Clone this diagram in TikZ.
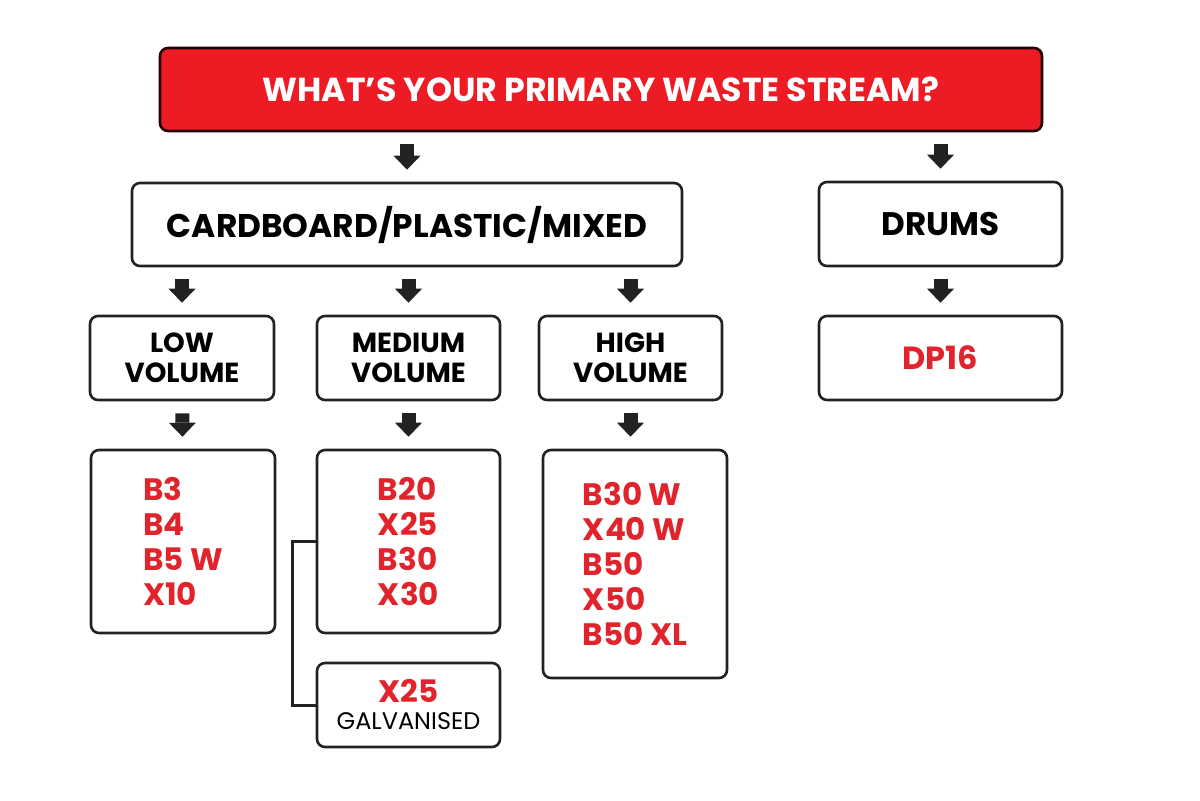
\documentclass[tikz,border=0pt]{standalone}
\usepackage{fontspec}
\setmainfont{Poppins}
\usetikzlibrary{arrows.meta,positioning}
\definecolor{streamred}{HTML}{ED1C24}
\definecolor{modelred}{HTML}{E1232B}
\definecolor{boxline}{HTML}{222222}
\begin{document}
\begin{tikzpicture}[x=0.5pt,y=-0.5pt,
  box/.style={draw=boxline,line width=1.3pt,rounded corners=4pt,fill=white,align=center,inner sep=0pt,minimum width=92pt,minimum height=42pt},
  head/.style={box,font=\bfseries\fontsize{13.8}{15}\selectfont},
  models/.style={box,align=left,text=modelred,font=\bfseries\fontsize{15.5}{17.5}\selectfont},
  flow/.style={draw=boxline,line width=7pt,-{Triangle[length=7pt,width=13.5pt,line width=0pt]},shorten <=6pt,shorten >=6pt},
  bracket/.style={draw=boxline,line width=1.5pt}]
\useasboundingbox (0,0) rectangle (1200,800);
\node[box,fill=streamred,draw=black!85!red,minimum width=441pt,minimum height=41.5pt,text=white,font=\bfseries\fontsize{16.6}{18}\selectfont] (stream) at (601,89.5) {WHAT{\char"27}S YOUR PRIMARY WASTE STREAM?};
\node[box,minimum width=275pt,minimum height=41.5pt,font=\bfseries\fontsize{16.4}{18}\selectfont] (mixed) at (407,224.5) {CARDBOARD/PLASTIC/MIXED};
\node[box,minimum width=121.5pt,font=\bfseries\fontsize{16.3}{18}\selectfont] (drums) at (940.5,224) {DRUMS};
\node[head] (low) at (182,358) {LOW\\VOLUME};
\node[head,minimum width=91.5pt] (medium) at (408.5,358) {MEDIUM\\VOLUME};
\node[head,minimum width=91.5pt] (high) at (630.5,358) {HIGH\\VOLUME};
\node[box,minimum width=121.5pt,text=modelred,font=\bfseries\fontsize{16}{17}\selectfont] (dp) at (940.5,358) {DP16};
\node[models,minimum height=91.5pt] (lowlist) at (183,541.5) {B3\\B4\\B5 W\\X10};
\node[models,minimum width=91.5pt,minimum height=91.5pt] (medlist) at (408.5,541.5) {B20\\X25\\B30\\X30};
\node[box,minimum width=91.5pt,font=\bfseries\fontsize{15.5}{13.5}\selectfont] (galv) at (408.5,705) {\textcolor{modelred}{X25}\\{\mdseries\fontsize{12}{13.5}\selectfont GALVANISED}};
\node[models,minimum height=114pt] (highlist) at (635,564) {B30 W\\X40 W\\B50\\X50\\B50 XL};
\draw[flow] (stream.south -| mixed) -- (mixed.north);
\draw[flow] (stream.south -| drums) -- (drums.north);
\draw[flow] (mixed.south -| low) -- (low.north);
\draw[flow] (mixed.south -| medium) -- (medium.north);
\draw[flow] (mixed.south -| high) -- (high.north);
\draw[flow] (drums) -- (dp);
\draw[flow] (low) -- (lowlist);
\draw[flow] (medium) -- (medlist);
\draw[flow] (high.south) -- (high.south |- highlist.north);
\draw[bracket] (medlist.west) -- ++(-23,0) |- (galv.west);
\end{tikzpicture}
\end{document}
